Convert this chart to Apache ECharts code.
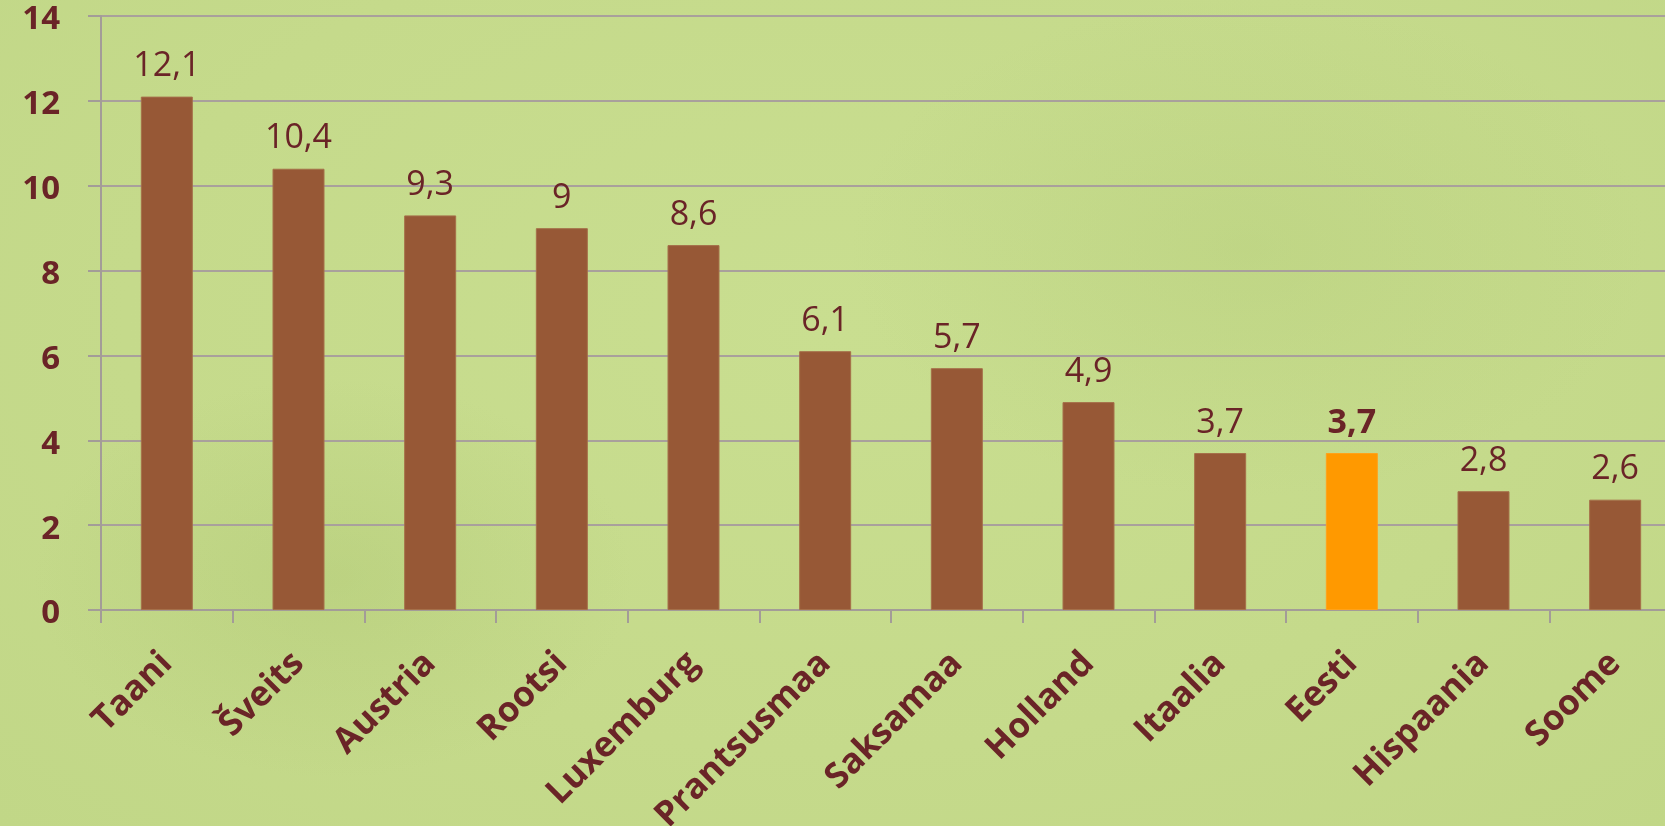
<!DOCTYPE html>
<html>
<head>
<meta charset="utf-8">
<script src="https://cdn.jsdelivr.net/npm/echarts@6/dist/echarts.min.js"></script>
<style>
html,body{margin:0;padding:0;background:#c6dc8c;}
#chart{width:1665px;height:826px;background:
 radial-gradient(ellipse 300px 200px at 20% 70%, rgba(170,195,110,0.35), rgba(0,0,0,0)),
 radial-gradient(ellipse 400px 250px at 75% 30%, rgba(175,200,115,0.3), rgba(0,0,0,0)),
 radial-gradient(ellipse at 50% 40%, #c9de90 0%, #c5da8b 60%, #c1d787 100%);}
</style>
</head>
<body>
<div id="chart"></div>
<script>
const categories = ["Taani","Šveits","Austria","Rootsi","Luxemburg","Prantsusmaa","Saksamaa","Holland","Itaalia","Eesti","Hispaania","Soome"];
const values = [12.1,10.4,9.3,9,8.6,6.1,5.7,4.9,3.7,3.7,2.8,2.6];
const highlight = "Eesti";
const yTicks = [0,2,4,6,8,10,12,14];

const labelColor = '#6a2427';
const fontFam = '"Open Sans", "Noto Sans", sans-serif';

const chart = echarts.init(document.getElementById('chart'), null, {renderer:'canvas'});
const data = values.map((v,i)=>{
  const isH = categories[i] === highlight;
  return {
    value: v,
    itemStyle: { color: isH ? '#ff9900' : '#975836', borderColor: isH ? '#ffa21a' : '#a5704a', borderWidth: 1 },
    label: { fontWeight: isH ? 'bold' : 'normal' }
  };
});
chart.setOption({
  backgroundColor: 'transparent',
  animation: false,
  grid: { left: 101, top: 16, width: 1580, height: 594, containLabel: false, outerBoundsMode: 'none' },
  xAxis: {
    type: 'category',
    data: categories,
    axisLine: { lineStyle: { color: '#a39c98', width: 2 } },
    axisTick: { show: true, length: 13, alignWithLabel: false, lineStyle: { color: '#a39c98', width: 2 } },
    axisLabel: {
      rotate: 45, interval: 0, margin: 48,
      color: labelColor, fontFamily: fontFam, fontWeight: 'bold', fontSize: 35
    }
  },
  yAxis: {
    type: 'value', min: yTicks[0], max: yTicks[yTicks.length-1], interval: 2,
    axisLine: { show: true, lineStyle: { color: '#a39c98', width: 2 } },
    axisTick: { show: true, length: 13, lineStyle: { color: '#a39c98', width: 2 } },
    splitLine: { show: true, lineStyle: { color: '#a9a09c', width: 2 } },
    axisLabel: {
      margin: 41, color: labelColor, fontFamily: fontFam, fontWeight: 'bold', fontSize: 33,
      verticalAlign: 'top', lineHeight: 8,
      formatter: v => String(v)
    }
  },
  series: [{
    type: 'bar',
    data: data,
    barWidth: 52,
    label: {
      show: true, position: 'top', distance: 13,
      color: labelColor, fontFamily: fontFam, fontSize: 34,
      formatter: p => String(p.value).replace('.', ',')
    }
  }]
});
</script>
</body>
</html>
